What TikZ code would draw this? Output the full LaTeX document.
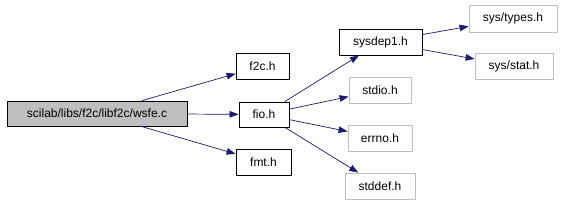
\documentclass[tikz,border=0pt]{standalone}
\usepackage{fontspec}
\setmainfont{Liberation Sans}
\usetikzlibrary{arrows.meta}
\definecolor{edgecol}{HTML}{191970}
\definecolor{graybox}{HTML}{BFBFBF}
\tikzset{
  file/.style={draw=black, line width=0.8pt, inner sep=0pt, font=\fontsize{12}{14}\selectfont, minimum height=26pt},
  extfile/.style={file, draw=graybox},
  dep/.style={draw=edgecol, line width=0.7pt, -{Triangle[length=9pt,width=6.5pt]}}
}
\begin{document}
\begin{tikzpicture}[x=1pt,y=-1pt]
\useasboundingbox (0,0) rectangle (562,202);
\node[file, fill=graybox, minimum width=180pt, minimum height=25pt] (main) at (97,113.5) {scilab/libs/f2c/libf2c/wsfe.c};
\node[file, minimum width=53pt] (f2c) at (262.5,66) {f2c.h};
\node[file, minimum width=50pt, minimum height=25pt] (fio) at (264,114.5) {fio.h};
\node[file, minimum width=55pt] (fmt) at (263.5,162) {fmt.h};
\node[file, minimum width=83pt] (sysdep) at (380.5,42) {sysdep1.h};
\node[extfile, minimum width=88pt, minimum height=27pt] (types) at (513,18.5) {sys/types.h};
\node[extfile, minimum width=78pt] (stat) at (514,66) {sys/stat.h};
\node[extfile, minimum width=62pt] (stdio) at (380,90) {stdio.h};
\node[extfile, minimum width=64pt] (errno) at (380,138) {errno.h};
\node[extfile, minimum width=70pt] (stddef) at (380,186) {stddef.h};
\draw[dep] (main) -- (f2c);
\draw[dep] (main) -- (fio);
\draw[dep] (main) -- (fmt);
\draw[dep] (fio) -- (sysdep);
\draw[dep] (fio) -- (stdio);
\draw[dep] (fio) -- (errno);
\draw[dep] (fio) -- (stddef);
\draw[dep] (sysdep) -- (types);
\draw[dep] (sysdep) -- (stat);
\end{tikzpicture}
\end{document}
